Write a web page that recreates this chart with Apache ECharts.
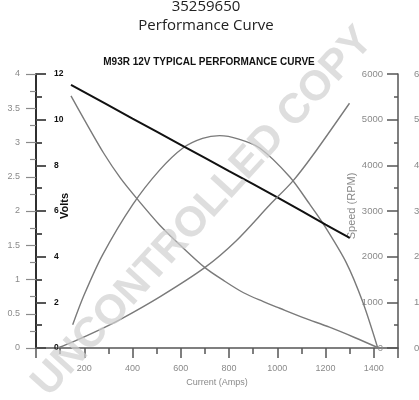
<!DOCTYPE html>
<html><head><meta charset="utf-8">
<script src="https://cdn.jsdelivr.net/npm/echarts@6/dist/echarts.min.js"></script>
<style>html,body{margin:0;padding:0;background:#fff}#c{width:419px;height:400px}</style>
</head><body><div id="c"></div>
<script>
const partNumber = '35259650';
const pageTitle = 'Performance Curve';
const chartTitle = 'M93R 12V TYPICAL PERFORMANCE CURVE';
const watermarkText = 'UNCONTROLLED COPY';
const currentName = 'Current (Amps)';
const voltsName = 'Volts';
const speedName = 'Speed (RPM)';

// axis ranges [min, max, interval]
const currentAxis = [0, 1500, 200];
const powerAxis = [0, 4, 0.5];
const voltsAxis = [0, 12, 2];
const speedAxis = [0, 6000, 1000];
const torqueAxis = [0, 6, 1];

// [current (A), value]
const voltsData = [[145,11.52],[400,10.05],[600,8.9],[800,7.75],[1000,6.6],[1200,5.4],[1300,4.82]];
const speedData = [[145,5520],[200,5000],[280,4270],[350,3720],[420,3260],[513,2690],[600,2240],[700,1760],[780,1470],[860,1210],[940,1020],[1010,870],[1110,660],[1216,455],[1320,230],[1420,0]];
const powerData = [[152,0.34],[200,0.78],[276,1.36],[400,2.09],[513,2.6],[609,2.92],[690,3.06],[761,3.1],[840,3.05],[927,2.92],[1051,2.5],[1134,2.1],[1189,1.82],[1285,1.25],[1354,0.67],[1416,0]];
const torqueData = [[90,0],[160,0.15],[276,0.43],[348,0.62],[513,1.12],[699,1.76],[830,2.35],[968,3.13],[1065,3.66],[1147,4.22],[1299,5.36]];

const FONT = '"Liberation Sans", Arial, sans-serif';
const GRAY = '#8a8a8a';
const chart = echarts.init(document.getElementById('c'), null, {renderer: 'canvas'});

function yAx(range, pos, inside, opts) {
  return Object.assign({
    type: 'value', position: pos, offset: 0,
    min: range[0], max: range[1], interval: range[2],
    axisLine: {show: true, onZero: false, lineStyle: {color: '#222', width: 1.5}},
    axisTick: {show: true, inside: inside, length: 10, lineStyle: {color: '#222', width: 1.5}},
    minorTick: {show: true, splitNumber: 2, length: 6, lineStyle: {color: '#222', width: 1.5}},
    axisLabel: {inside: inside, margin: 16, fontFamily: FONT, fontSize: 9, color: GRAY, formatter: v => String(v)},
    splitLine: {show: false}, minorSplitLine: {show: false}
  }, opts);
}

const lineCommon = {type: 'line', smooth: 0.3, showSymbol: false, silent: true};

const option = {
  animation: false,
  backgroundColor: '#fff',
  grid: {left: 36, right: 21, top: 74, bottom: 52, containLabel: false, outerBoundsMode: 'none'},
  xAxis: {
    type: 'value', min: currentAxis[0], max: currentAxis[1], interval: currentAxis[2],
    axisLine: {show: true, onZero: false, lineStyle: {color: '#555', width: 1.5}},
    axisTick: {show: true, length: 10, lineStyle: {color: '#555', width: 1.5}},
    minorTick: {show: true, splitNumber: 2, length: 6, lineStyle: {color: '#555', width: 1.5}},
    axisLabel: {margin: 16, fontFamily: FONT, fontSize: 9, color: GRAY,
      formatter: v => (v <= 0 || v >= currentAxis[1]) ? '' : String(v)},
    splitLine: {show: false},
    name: currentName, nameLocation: 'middle', nameGap: 27,
    nameTextStyle: {fontFamily: FONT, fontSize: 9, color: GRAY}
  },
  yAxis: [
    yAx(powerAxis, 'left', false, {
      axisTick: {show: true, inside: false, length: 10, lineStyle: {color: GRAY, width: 1.2}},
      minorTick: {show: true, splitNumber: 2, length: 6, lineStyle: {color: GRAY, width: 1.2}}
    }),
    yAx(voltsAxis, 'left', true, {
      axisLabel: {inside: true, margin: 18, fontFamily: FONT, fontSize: 8.5, fontWeight: 'bold', color: '#111', formatter: v => String(v)}
    }),
    yAx(speedAxis, 'right', true, {
      axisLine: {show: true, onZero: false, lineStyle: {color: '#555', width: 1.5}},
      axisTick: {show: true, inside: true, length: 11, lineStyle: {color: '#555', width: 1.5}},
      minorTick: {show: true, splitNumber: 2, length: 4, lineStyle: {color: '#555', width: 1.5}},
      axisLabel: {inside: true, margin: 15, fontFamily: FONT, fontSize: 9.5, color: GRAY, formatter: v => String(v)}
    }),
    yAx(torqueAxis, 'right', false, {
      axisLine: {show: false},
      axisTick: {show: true, inside: false, length: 10, lineStyle: {color: '#555', width: 1.5}},
      minorTick: {show: true, splitNumber: 2, length: 5, lineStyle: {color: '#555', width: 1.5}},
      axisLabel: {inside: false, margin: 16, fontFamily: FONT, fontSize: 9.5, color: GRAY, formatter: v => String(v)}
    })
  ],
  series: [
    Object.assign({name: 'Power', yAxisIndex: 0, data: powerData, lineStyle: {color: '#7a7a7a', width: 1.4}}, lineCommon),
    Object.assign({name: 'Volts', yAxisIndex: 1, data: voltsData, lineStyle: {color: '#111', width: 2}}, lineCommon),
    Object.assign({name: 'Speed', yAxisIndex: 2, data: speedData, lineStyle: {color: '#7a7a7a', width: 1.4}}, lineCommon),
    Object.assign({name: 'Torque', yAxisIndex: 3, data: torqueData, lineStyle: {color: '#7a7a7a', width: 1.4}}, lineCommon)
  ],
  graphic: [
    {type: 'text', x: 206, y: 7, style: {text: partNumber, align: 'center', verticalAlign: 'middle', font: '15px "Open Sans"', fill: '#222'}},
    {type: 'text', x: 206, y: 26, style: {text: pageTitle, align: 'center', verticalAlign: 'middle', font: '15px "Open Sans"', fill: '#222'}},
    {type: 'text', x: 209, y: 62, style: {text: chartTitle, align: 'center', verticalAlign: 'middle', font: 'bold 10px "Liberation Sans"', fill: '#111'}},
    {type: 'text', x: 65, y: 206, rotation: Math.PI / 2, style: {text: voltsName, align: 'center', verticalAlign: 'middle', font: 'bold 11px "Liberation Sans"', fill: '#111'}},
    {type: 'text', x: 352, y: 206, rotation: Math.PI / 2, style: {text: speedName, align: 'center', verticalAlign: 'middle', font: '11px "Liberation Sans"', fill: GRAY}},
    {type: 'text', x: 203, y: 212, rotation: 0.83, z: 100, style: {text: watermarkText, align: 'center', verticalAlign: 'middle', font: 'bold 42px "Liberation Sans"', fill: 'rgba(208,208,208,0.7)'}}
  ]
};
chart.setOption(option);
</script></body></html>
